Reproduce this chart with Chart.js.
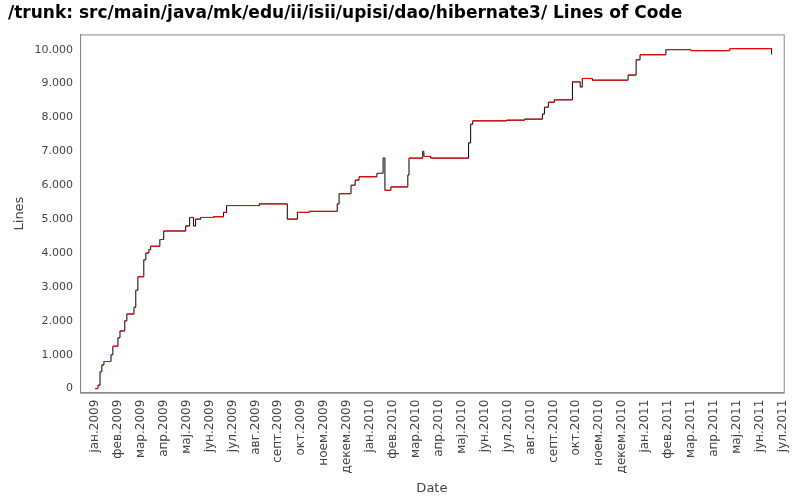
<!DOCTYPE html>
<html>
<head>
<meta charset="utf-8">
<script src="https://cdn.jsdelivr.net/npm/chart.js@4/dist/chart.umd.min.js"></script>
<style>
  body { margin: 0; background: #fff; }
  #wrap { width: 800px; height: 500px; position: relative; }
</style>
</head>
<body>
<div id="wrap"><canvas id="chart-loc"></canvas></div>
<script>
// x = months since јан.2009, y = lines of code
const months = [0, 0.13, 0.22, 0.3, 0.39, 0.7, 0.78, 1, 1.09, 1.3, 1.39, 1.7, 1.78, 1.87, 2.13, 2.22, 2.35, 2.43, 2.83, 3,
    3.96, 4.13, 4.3, 4.39, 4.61, 5.17, 5.61, 5.74, 7.17, 8.39, 8.83, 9.35, 10.57, 10.65, 11.17, 11.35, 11.52, 12.3, 12.57,
    12.65, 12.91, 13.65, 13.7, 14.3, 14.35, 14.65, 16.3, 16.39, 16.48, 17.96, 18.74, 19.52, 19.61, 19.78, 20.04, 20.83,
    21.17, 21.26, 21.7, 23.26, 23.61, 23.78, 24.91, 26, 27.7, 29.52];
const lines = [0, 100, 500, 700, 800, 1000, 1250, 1500, 1700, 2000, 2200, 2400, 2900, 3300, 3800, 4000, 4100, 4200, 4400, 4650,
    4800, 5050, 4800, 5000, 5050, 5070, 5200, 5400, 5450, 5000, 5200, 5230, 5450, 5750, 6000, 6150, 6250, 6350, 6800,
    5850, 5950, 6300, 6800, 7000, 6850, 6800, 7250, 7800, 7900, 7920, 7950, 8100, 8300, 8450, 8520, 9050,
    8900, 9150, 9100, 9250, 9700, 9850, 10000, 9970, 10030, 9870];
const endMonth = 29.55;
const monthLabels = ["јан.2009", "фев.2009", "мар.2009", "апр.2009", "мај.2009", "јун.2009", "јул.2009", "авг.2009",
    "септ.2009", "окт.2009", "ноем.2009", "декем.2009", "јан.2010", "фев.2010", "мар.2010", "апр.2010", "мај.2010",
    "јун.2010", "јул.2010", "авг.2010", "септ.2010", "окт.2010", "ноем.2010", "декем.2010", "јан.2011", "фев.2011",
    "мар.2011", "апр.2011", "мај.2011", "јун.2011", "јул.2011"];

const points = months.map((m, i) => ({ x: m, y: lines[i] }));
// horizontal pieces in red, separated by gaps
const flat = [];
months.forEach((m, i) => {
    const next = i < months.length - 1 ? months[i + 1] : endMonth;
    flat.push({ x: m, y: lines[i] }, { x: next, y: lines[i] }, { x: next, y: null });
});

new Chart(document.getElementById("chart-loc").getContext("2d"), {
    type: "line",
    data: {
        datasets: [{
            data: flat,
            borderColor: "#ff0000",
            borderWidth: 1,
            pointRadius: 0,
            spanGaps: false,
            order: 0
        }, {
            data: points,
            borderColor: "#000000",
            borderWidth: 1,
            pointRadius: 0,
            stepped: true,
            order: 1
        }]
    },
    options: {
        responsive: true,
        maintainAspectRatio: false,
        animation: false,
        layout: { padding: { right: 11, top: 0, left: 8 } },
        plugins: {
            legend: { display: false },
            tooltip: { enabled: false },
            title: {
                display: true,
                text: "/trunk: src/main/java/mk/edu/ii/isii/upisi/dao/hibernate3/ Lines of Code",
                align: "start",
                color: "#000",
                font: { size: 17, weight: "bold", family: "DejaVu Sans" },
                padding: { top: 3, bottom: 11 }
            }
        },
        scales: {
            x: {
                type: "linear",
                min: -0.65,
                max: 30.05,
                afterBuildTicks: axis => { axis.ticks = monthLabels.map((l, i) => ({ value: i })); },
                grid: { display: false, drawTicks: true, tickLength: 4, color: "#888" },
                border: { color: "#888" },
                ticks: {
                    autoSkip: false,
                    maxRotation: 90,
                    minRotation: 90,
                    color: "#444",
                    font: { size: 12, family: "DejaVu Sans" },
                    callback: v => monthLabels[v]
                },
                title: { display: true, text: "Date", color: "#444", font: { size: 13, family: "DejaVu Sans" } }
            },
            y: {
                min: -120,
                max: 10450,
                afterBuildTicks: axis => {
                    axis.ticks = [0, 1000, 2000, 3000, 4000, 5000, 6000, 7000, 8000, 9000, 10000].map(v => ({ value: v }));
                },
                grid: { display: false, drawTicks: true, tickLength: 4 },
                border: { color: "#888" },
                ticks: {
                    color: "#444",
                    font: { size: 11, family: "DejaVu Sans" },
                    callback: v => v.toLocaleString("de-DE")
                },
                title: { display: true, text: "Lines", color: "#444", font: { size: 13, family: "DejaVu Sans" } }
            }
        }
    },
    plugins: [{
        id: "frame",
        afterDraw(chart) {
            const a = chart.chartArea, c = chart.ctx;
            c.save();
            c.strokeStyle = "#888";
            c.strokeRect(a.left + 0.5, a.top + 0.5, a.right - a.left, a.bottom - a.top);
            c.restore();
        }
    }]
});
</script>
</body>
</html>
